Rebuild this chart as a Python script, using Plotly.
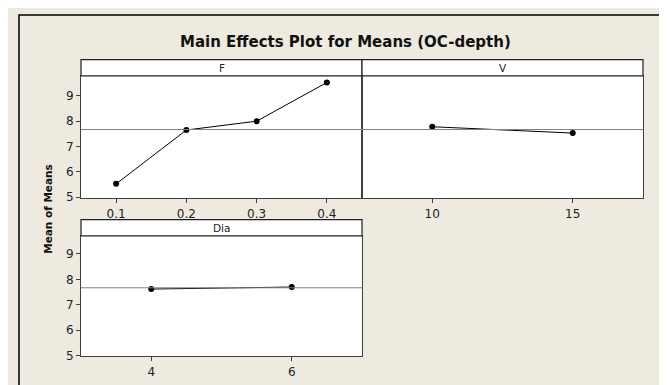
import plotly.graph_objects as go

# ---- data ----
f_levels = [0.1, 0.2, 0.3, 0.4]
f_means = [5.52, 7.65, 8.00, 9.53]
v_levels = [10, 15]
v_means = [7.78, 7.53]
dia_levels = [4, 6]
dia_means = [7.62, 7.70]
grand_mean = 7.67
y_ticks = [5, 6, 7, 8, 9]
title_text = "Main Effects Plot for Means (OC-depth)"
y_title = "Mean of Means"

W, H = 667, 385
BG = "#EEEAE0"
FONT = "DejaVu Sans"

def px(x):
    return x / W

def py(y):
    return 1 - y / H

fig = go.Figure()
mk = dict(color="black", size=6)
ln = dict(color="black", width=1)
fig.add_trace(go.Scatter(x=f_levels, y=f_means, mode="lines+markers", marker=mk, line=ln,
                         xaxis="x", yaxis="y", showlegend=False))
fig.add_trace(go.Scatter(x=v_levels, y=v_means, mode="lines+markers", marker=mk, line=ln,
                         xaxis="x2", yaxis="y2", showlegend=False))
fig.add_trace(go.Scatter(x=dia_levels, y=dia_means, mode="lines+markers", marker=mk, line=ln,
                         xaxis="x3", yaxis="y3", showlegend=False))

axcol = "#404040"
tickfont = dict(family=FONT, size=12, color="#222222")
common_x = dict(showline=True, mirror=True, linecolor=axcol, linewidth=1, showgrid=False,
                zeroline=False, ticks="outside", ticklen=4, tickcolor=axcol, tickfont=tickfont)
common_y = dict(showline=True, mirror=True, linecolor=axcol, linewidth=1, showgrid=False,
                zeroline=False, tickfont=tickfont, tickvals=y_ticks)

x_l, x_m, x_r = px(73), px(354), px(635)
top_dom = [py(193.3), py(69)]
bot_dom = [py(354), py(231.5)]

fig.update_layout(
    width=W, height=H,
    margin=dict(l=0, r=0, t=0, b=0),
    paper_bgcolor=BG, plot_bgcolor="white",
    xaxis=dict(common_x, domain=[x_l, x_m], range=[0.05, 0.45], tickvals=f_levels,
               ticktext=[str(v) for v in f_levels], anchor="y"),
    xaxis2=dict(common_x, domain=[x_m, x_r], range=[7.5, 17.5], tickvals=v_levels, anchor="y2"),
    xaxis3=dict(common_x, domain=[x_l, x_m], range=[3, 7], tickvals=dia_levels, anchor="y3"),
    yaxis=dict(common_y, domain=top_dom, range=[4.95, 9.79], ticks="outside", ticklen=4,
               tickcolor=axcol, anchor="x"),
    yaxis2=dict(common_y, domain=top_dom, range=[4.95, 9.79], showticklabels=False, ticks="",
                anchor="x2"),
    yaxis3=dict(common_y, domain=bot_dom, range=[4.97, 9.71], ticks="outside", ticklen=4,
                tickcolor=axcol, anchor="x3"),
)

shapes = []
# outer frame
shapes.append(dict(type="rect", xref="paper", yref="paper", x0=px(11), x1=px(665),
                   y0=-0.05, y1=py(7), line=dict(color="black", width=1.5), layer="below"))
# grand mean reference lines
shapes.append(dict(type="line", xref="paper", yref="y", x0=x_l, x1=x_r, y0=grand_mean, y1=grand_mean,
                   line=dict(color="#808080", width=1)))
shapes.append(dict(type="line", xref="paper", yref="y3", x0=x_l, x1=x_m, y0=grand_mean, y1=grand_mean,
                   line=dict(color="#808080", width=1)))
# strips
strips = [("F", x_l, x_m, 52.5, 69), ("V", x_m, x_r, 52.5, 69), ("Dia", x_l, x_m, 215, 231.5)]
annotations = []
for label, a, b, t, btm in strips:
    shapes.append(dict(type="rect", xref="paper", yref="paper", x0=a, x1=b, y0=py(btm), y1=py(t),
                       fillcolor="white", line=dict(color="#202020", width=1.2)))
    annotations.append(dict(text=label, xref="paper", yref="paper", x=(a + b) / 2,
                            y=py((t + btm) / 2), showarrow=False, xanchor="center", yanchor="middle",
                            font=dict(family=FONT, size=10.5, color="#222222")))

annotations.append(dict(text="<b>" + title_text + "</b>", xref="paper", yref="paper", x=px(337), y=py(35),
                        showarrow=False, xanchor="center", yanchor="middle",
                        font=dict(family=FONT, size=15, color="#111111")))
annotations.append(dict(text="<b>" + y_title + "</b>", xref="paper", yref="paper", x=px(40), y=py(204),
                        showarrow=False, xanchor="center", yanchor="middle", textangle=-90,
                        font=dict(family=FONT, size=10.5, color="#111111")))

fig.update_layout(shapes=shapes, annotations=annotations)
fig.write_html("out.html")
